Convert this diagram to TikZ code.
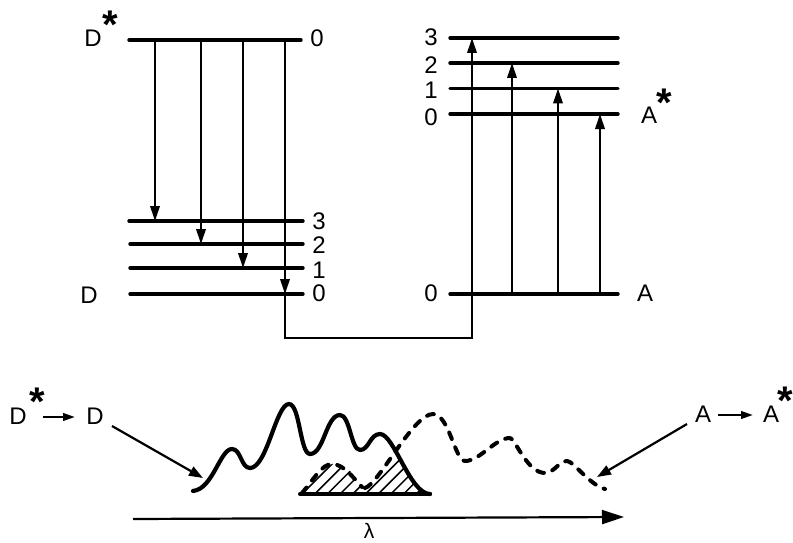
\documentclass[tikz,border=0pt]{standalone}
\usepackage{fontspec}
\setmainfont{Liberation Sans}
\usetikzlibrary{arrows.meta}
\tikzset{
  x=1pt,y=-1pt,
  level/.style={line width=3.4pt,line cap=round},
  plain/.style={line width=2pt,line join=miter},
  trans/.style={plain,-{Triangle[length=15pt,width=9.5pt]}},
  pointer/.style={line width=2.2pt,-{Triangle[length=14pt,width=10pt]}},
  smallarrow/.style={line width=2.4pt,-{Triangle[length=12pt,width=7.5pt]}},
  axisarrow/.style={line width=2.2pt,-{Triangle[length=22pt,width=14pt]}},
  spec/.style={line width=4.2pt,line cap=round,line join=round},
  specd/.style={line width=4pt,line cap=round,line join=round,dash pattern=on 7pt off 9pt},
  lab/.style={inner sep=0pt,font=\fontsize{24}{24}\selectfont},
  star/.style={inner sep=0pt,font=\fontsize{40}{40}\selectfont\bfseries},
}
\begin{document}
\begin{tikzpicture}
\useasboundingbox (0,0) rectangle (793,543);
\fill[white] (0,0) rectangle (793,543);
% donor levels
\foreach \n/\y/\xa/\xb in {ds/40/129/301,d3/221/129/303,d2/244/130/303,d1/268/130/303,d0/294/130/303}{
  \coordinate (\n l) at (\xa,\y); \coordinate (\n r) at (\xb,\y);
  \draw[level] (\n l) -- (\n r);}
% acceptor levels
\foreach \n/\y in {a3/38,a2/63,a1/88.5,a0/114,g/294}{
  \coordinate (\n l) at (450,\y); \coordinate (\n r) at (618,\y);
  \draw[level] (\n l) -- (\n r);}
% labels
\node[lab] (lDs) at (93,38) {D};
\node[star] (sDs) at (110,25) {*};
\node[lab] (l0t) at (317,38) {0};
\node[lab] (l3) at (319,221) {3};
\node[lab] (l2) at (319,245) {2};
\node[lab] (l1) at (319,270) {1};
\node[lab] (l0) at (319,293) {0};
\node[lab] (lD) at (89,295) {D};
\node[lab] (r3) at (431,37) {3};
\node[lab] (r2) at (431,65) {2};
\node[lab] (r1) at (431,90) {1};
\node[lab] (r0) at (431,117) {0};
\node[lab] (lAs) at (649,115) {A};
\node[star] (sAs) at (664,103) {*};
\node[lab] (rg) at (431,293) {0};
\node[lab] (lA) at (645,293) {A};
\node[lab] (sD1) at (18,416) {D};
\node[star] (sD1s) at (37,402) {*};
\node[lab] (sD2) at (95,416) {D};
\node[lab] (sA1) at (703,414) {A};
\node[lab] (sA2) at (771,414) {A};
\node[star] (sA2s) at (785,401) {*};
\node[lab,font=\fontsize{21}{21}\selectfont] (lam) at (369,531) {λ};
% donor transitions
\foreach \x/\t in {155/d3,201/d2,243/d1,285/d0}{
  \coordinate (from) at (\x,40);
  \draw[trans] (from) -- (from |- \t l);}
% acceptor transitions
\foreach \x/\t in {512/a2,558/a1,600/a0}{
  \coordinate (from) at (\x,294);
  \draw[trans] (from) -- (from |- \t l);}
% coupling line
\coordinate (c0) at (285,294);
\coordinate (c1) at (472,338);
\draw[plain] (c0) |- (c1) -- (472,294);
\coordinate (c2) at (472,294);
\draw[trans] (c2) -- (c2 |- a3l);
% hatched overlap
\begin{scope}
\clip plot[smooth,tension=0.5] coordinates {(300,494) (313,482) (322,470) (332,464) (343,466) (352,473) (360,485) (365,488) (370,483) (380,473) (390,462) (397,453)}
  -- plot[smooth,tension=0.5] coordinates {(397,453) (404,468) (413,483) (420,490) (430,494)} -- cycle;
\foreach \i in {0,...,13}{
  \coordinate (h1) at ({300+12.7*\i},496);
  \coordinate (h2) at ({300+12.7*\i+50},446);
  \draw[line width=1.5pt] (h1) -- (h2);}
\end{scope}
\coordinate (bl) at (300,494); \coordinate (br) at (430,494);
\draw[line width=4pt,line cap=round] (bl) -- (br);
% spectra
\draw[spec] (193,491) .. controls +(20,-2) and +(-12,0) .. (232,449)
  .. controls +(9,0) and +(-9,0) .. (250,468)
  .. controls +(17,0) and +(-13,0) .. (289,404)
  .. controls +(11,0) and +(-10,0) .. (310,454)
  .. controls +(14,0) and +(-14,0) .. (340,415)
  .. controls +(10,0) and +(-9,0) .. (360,450)
  .. controls +(9,0) and +(-10,0) .. (380,434)
  .. controls +(14,0) and +(-20,0) .. (430,494);
\draw[specd] (302,493) .. controls +(12,-14) and +(-10,0) .. (332,464)
  .. controls +(12,0) and +(-8,-8) .. (362,487);
\draw[specd] (365,488) .. controls +(14,-4) and +(-20,0) .. (433,414)
  .. controls +(16,0) and +(-10,0) .. (465,461)
  .. controls +(15,0) and +(-15,0) .. (510,438)
  .. controls +(5,0) and +(-18,0) .. (545,473)
  .. controls +(9,0) and +(-8,0) .. (567,461)
  .. controls +(6,0) and +(-14,-3) .. (605,489);
% pointers
\coordinate (p1) at (112,426); \coordinate (p2) at (203,478);
\draw[pointer] (p1) -- (p2);
\coordinate (p3) at (687,424); \coordinate (p4) at (597,477);
\draw[pointer] (p3) -- (p4);
\draw[smallarrow] (43,417) -- (75,417);
\draw[smallarrow] (718,415) -- (753,415);
\coordinate (ax1) at (133,519); \coordinate (ax2) at (624,517);
\draw[axisarrow] (ax1) -- (ax2);
\end{tikzpicture}
\end{document}
